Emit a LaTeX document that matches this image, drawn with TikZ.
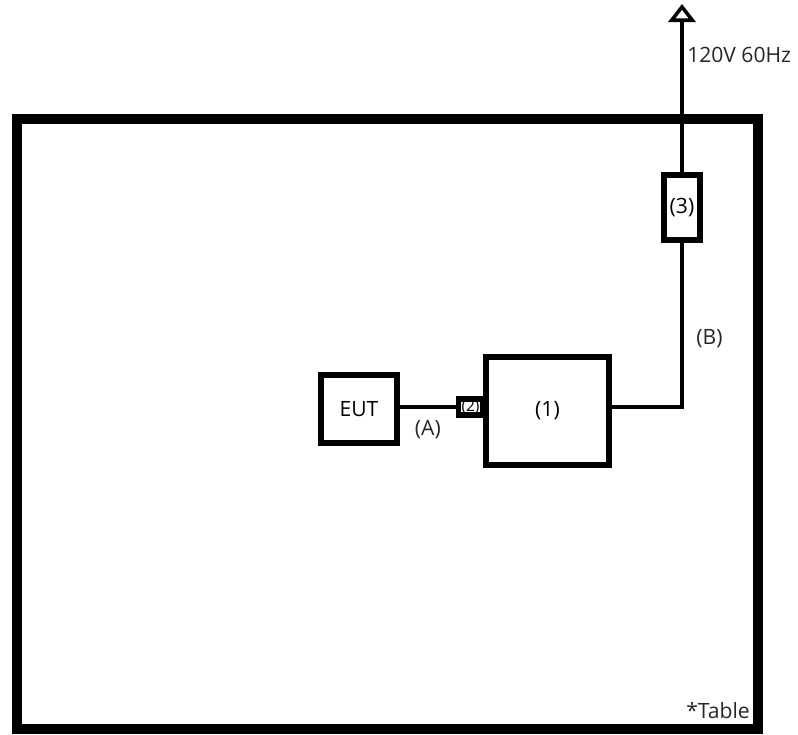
\documentclass[tikz,border=0pt]{standalone}
\usepackage{fontspec}
\setmainfont{Open Sans}
\usetikzlibrary{arrows.meta}

\begin{document}
\begin{tikzpicture}[x=0.025cm, y=-0.025cm]
			\tikzstyle{unit}=[draw, line width=4.6pt, inner sep=0pt, font=\fontsize{15}{17}\selectfont]
			\tikzstyle{wire}=[line width=2.5pt]
			\tikzstyle{lbl}=[inner sep=0pt, text=black!85, font=\fontsize{15}{17}\selectfont]
			
			\useasboundingbox (0,0) rectangle (798,735);
			% table
			\draw[line width=7.6pt] (17,119) rectangle (758,729);
			\node[lbl, anchor=east] (table) at (750,711) {*Table};
			
			% equipment
			\node[unit, minimum width=1.9cm, minimum height=1.7cm] (eut) at (359,409) {EUT};
			\node[unit, minimum width=3.075cm, minimum height=2.7cm] (one) at (547.5,411) {(1)};
			\node[unit, minimum width=0.9cm, minimum height=1.625cm] (three) at (682,207.5) {(3)};
			\node[unit, line width=4.2pt, minimum width=0.6cm, minimum height=0.42cm,
				font=\fontsize{11}{12}\selectfont] (two) at (470.5,407) {(2)};
			\coordinate (supply) at (682,4);
			
			% cables
			\draw[wire] (eut.east |- two.west) -- (two.west) node[lbl, midway, below=8pt]{(A)};
			\draw[wire] (one.east |- two.west) -| (three.south) node[lbl, pos=0.71, right=9pt]{(B)};
			\draw[wire, -{Triangle[open, width=0.675cm, length=0.45cm, line width=2.5pt]}] (three.north) -- (supply);
			\node[lbl, anchor=west] (mains) at (687,55) {120V 60Hz};
\end{tikzpicture}
\end{document}
